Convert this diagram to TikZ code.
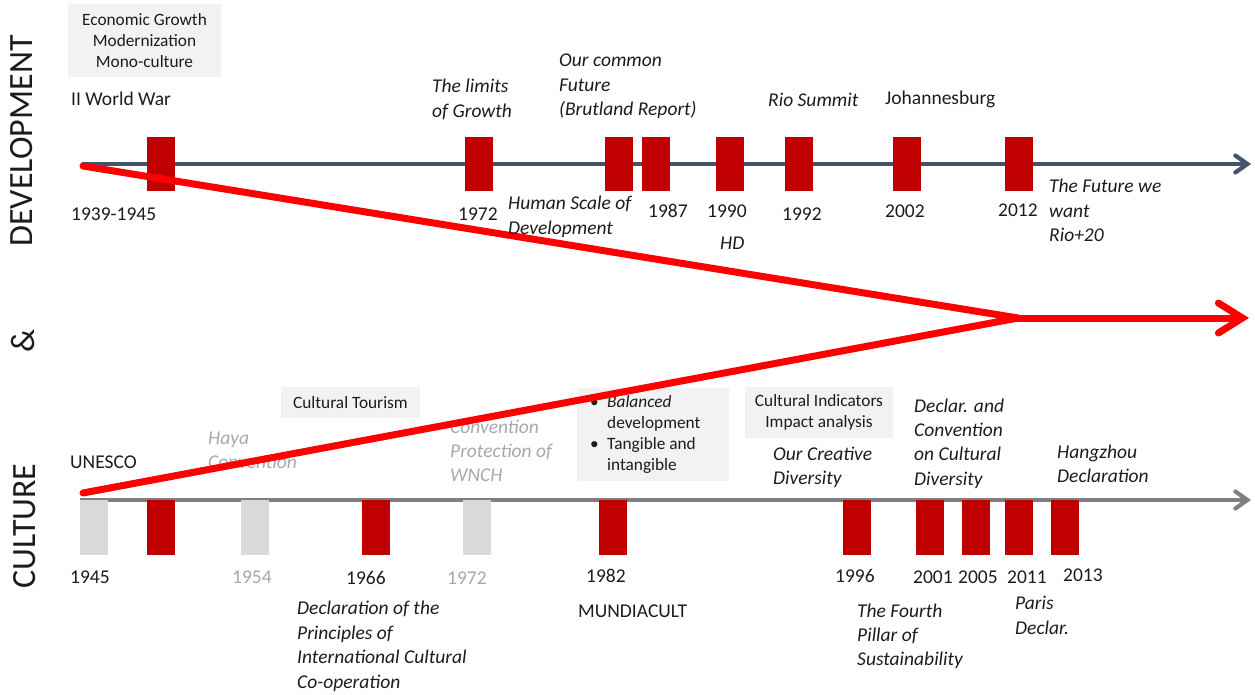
\documentclass[tikz,border=0pt]{standalone}
\usepackage{fontspec}
\setmainfont{Carlito}
\usetikzlibrary{arrows.meta}
\definecolor{ink}{HTML}{1C1C1C}
\definecolor{paletext}{HTML}{A8A8A8}
\definecolor{boxgrey}{HTML}{F2F2F2}
\definecolor{barred}{HTML}{C00000}
\definecolor{barpale}{HTML}{D9D9D9}
\definecolor{devaxis}{HTML}{44546A}
\definecolor{culaxis}{HTML}{7F7F7F}
\definecolor{trend}{HTML}{FF0000}
\begin{document}
\begin{tikzpicture}[x=1pt,y=-1pt,
  % multi-line labels are placed by the baseline of their last line
  lbl/.style={font=\fontsize{19.5}{24.4}\selectfont, text=ink, inner sep=0, anchor=base west, align=left},
  ital/.style={lbl, font=\fontsize{19.5}{24.4}\selectfont\itshape},
  pale/.style={text=paletext},
  boxtxt/.style={font=\fontsize{17.3}{20.7}\selectfont, text=ink},
  infobox/.style={fill=boxgrey, draw=none, inner sep=0},
  bar/.style={fill=barred, draw=none, minimum width=28, minimum height=54, inner sep=0, anchor=north west},
  palebar/.style={bar, fill=barpale},
  axisline/.style={line width=4.2pt, -{Straight Barb[length=12pt,width=17pt,line cap=round]}},
  trendline/.style={draw=trend, line width=7pt, line join=round, line cap=round},
  sidelbl/.style={font=\fontsize{34}{34}\selectfont, text=ink, rotate=90, inner sep=0}
]
\useasboundingbox (0,0) rectangle (1255,695);

% side titles
\node[sidelbl] (devtitle) at (22,141) {DEVELOPMENT};
\node[sidelbl] (amp) at (23,341) {\&};
\node[sidelbl] (cultitle) at (25,526) {CULTURE};

% axes
\coordinate (devA) at (82,164);
\coordinate (devB) at (1251,164);
\coordinate (culA) at (80,500);
\coordinate (culB) at (1251,500);
\draw[axisline, draw=devaxis] (devA) -- (devB);
\draw[axisline, draw=culaxis] (culA) -- (culB);

% development milestones
\node[bar] (b1939) at (147,137) {};
\node[bar] (b1972) at (465,137) {};
\node[bar] (b1986) at (605,137) {};
\node[bar] (b1987) at (642,137) {};
\node[bar] (b1990) at (716,137) {};
\node[bar] (b1992) at (785,137) {};
\node[bar] (b2002) at (893,137) {};
\node[bar] (b2012) at (1005,137) {};

% culture milestones
\node[palebar, minimum height=55] (c1945) at (80,500) {};
\node[bar, minimum height=55] (c1946) at (147,500) {};
\node[palebar, minimum height=55] (c1954) at (241,500) {};
\node[bar, minimum height=55] (c1966) at (362,500) {};
\node[palebar, minimum height=55] (c1972) at (463,500) {};
\node[bar, minimum height=55] (c1982) at (599,500) {};
\node[bar, minimum height=55] (c1996) at (843,500) {};
\node[bar, minimum height=55] (c2001) at (916,500) {};
\node[bar, minimum height=55] (c2005) at (962,500) {};
\node[bar, minimum height=55] (c2011) at (1005,500) {};
\node[bar, minimum height=55] (c2013) at (1051,500) {};

% development labels
\node[infobox, boxtxt, align=center, minimum width=153, minimum height=73] (egm) at (144.5,40.5) {Economic Growth\\Modernization\\Mono-culture};
\node[lbl] (ww) at (71,106) {II World War};
\node[lbl] (y3945) at (71,220) {1939-1945};
\node[ital] (limits) at (432,117.4) {The limits\\of Growth};
\node[ital] (ocf) at (559,115.8) {Our common\\Future\\(Brutland Report)};
\node[ital] (rio) at (768,107) {Rio Summit};
\node[lbl] (joh) at (885,105) {Johannesburg};
\node[lbl] (y1972a) at (458,220) {1972};
\node[lbl] (y1987) at (648,218) {1987};
\node[lbl] (y1990) at (707,218) {1990};
\node[ital] (hd) at (720,249) {HD};
\node[lbl] (y1992) at (782,220) {1992};
\node[lbl] (y2002) at (885,218) {2002};
\node[lbl] (y2012) at (998,216) {2012};
\node[ital] (fww) at (1049,241.5) {The Future we\\want\\Rio+20};

% culture labels
\node[lbl] (unesco) at (70,468) {UNESCO};
\node[ital, pale] (haya) at (208,468.4) {Haya\\Convention};
\node[infobox, boxtxt, minimum width=139, minimum height=31] (ctour) at (350.5,402.5) {Cultural Tourism};
\node[ital, pale] (wnch) at (450,481.8) {Convention\\Protection of\\WNCH};
\node[infobox, minimum width=152, minimum height=93, anchor=north west] (bal) at (577,388) {};
\node[boxtxt, align=left, anchor=base west, inner sep=0] (baltxt) at (590,470)
  {\makebox[17pt][l]{\textbullet}\textit{Balanced}\\\hspace*{17pt}development\\\makebox[17pt][l]{\textbullet}Tangible and\\\hspace*{17pt}intangible};
\node[infobox, boxtxt, align=center, minimum width=148, minimum height=51] (cind) at (819,412.5) {Cultural Indicators\\Impact analysis};
\node[ital] (ocd) at (773,484.4) {Our Creative\\Diversity};
\node[ital] (dcd) at (914,485.2) {Declar. and\\Convention\\on Cultural\\Diversity};
\node[ital] (hz) at (1057,482.4) {Hangzhou\\Declaration};

\node[lbl] (z1945) at (70,583) {1945};
\node[lbl, pale] (z1954) at (232,583) {1954};
\node[lbl] (z1966) at (346,584) {1966};
\node[lbl, pale] (z1972) at (447,584) {1972};
\node[lbl] (z1982) at (586,582) {1982};
\node[lbl] (z1996) at (835,582) {1996};
\node[lbl] (z2001) at (913,583) {2001};
\node[lbl] (z2005) at (958,583) {2005};
\node[lbl] (z2011) at (1007,583) {2011};
\node[lbl] (z2013) at (1063,581) {2013};
\node[ital] (dpicc) at (297,688) {Declaration of the\\Principles of\\International Cultural\\Co-operation};
\node[lbl] (mund) at (578,617) {MUNDIACULT};
\node[ital] (fourth) at (857,665.8) {The Fourth\\Pillar of\\Sustainability};
\node[ital] (paris) at (1015,634) {Paris\\Declar.};

% converging trend
\coordinate (devT) at (83,166);
\coordinate (culT) at (83,493);
\coordinate (meet) at (1018,318);
\coordinate (ahead) at (1249,318);
\draw[trendline] (devT) -- (meet) -- (culT);
\draw[trendline, -{Straight Barb[length=24pt,width=30pt,line cap=round]}] (meet) -- (ahead);

\node[ital] (hsd) at (508,234.4) {Human Scale of\\Development};
\end{tikzpicture}
\end{document}
